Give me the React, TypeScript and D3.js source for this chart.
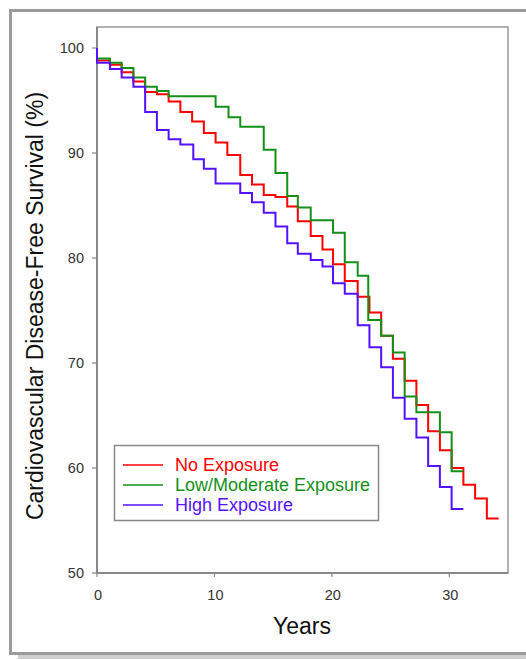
import React from "react";
import * as d3 from "d3";

// Kaplan-Meier style step curves: [years, survival %]
const noExposure: [number, number][] = [
  [0, 100], [0, 98.8], [1.1, 98.4], [2.1, 97.7], [3.1, 96.8], [4.1, 95.8], [5.1, 95.6],
  [6.1, 94.9], [7.1, 93.9], [8.1, 93.0], [9.1, 91.9], [10.1, 91.0], [11.1, 89.8],
  [12.2, 87.9], [13.2, 87.0], [14.2, 86.0], [15.2, 85.8], [16.2, 84.9], [17.1, 83.5],
  [18.2, 82.1], [19.2, 80.8], [20.1, 79.4], [21.1, 77.8], [22.2, 76.3], [23.2, 74.8],
  [24.2, 72.6], [25.2, 70.4], [26.2, 68.3], [27.2, 66.0], [28.2, 63.5], [29.2, 61.7],
  [30.2, 60.0], [31.2, 58.4], [32.2, 57.1], [33.2, 55.2], [34.2, 55.2],
];

const lowModerate: [number, number][] = [
  [0, 100], [0, 99.0], [1.1, 98.6], [2.1, 98.1], [3.1, 97.2], [4.1, 96.3], [5.1, 95.9],
  [6.1, 95.4], [10.1, 94.4], [11.2, 93.4], [12.2, 92.5], [14.2, 90.3], [15.2, 88.1],
  [16.2, 85.9], [17.1, 84.8], [18.2, 83.6], [20.1, 82.4], [21.1, 79.6], [22.2, 78.3],
  [23.1, 74.1], [24.2, 72.6], [25.2, 71.0], [26.2, 66.8], [27.2, 65.3], [29.2, 63.4],
  [30.2, 59.7], [31.2, 59.7],
];

const highExposure: [number, number][] = [
  [0, 100], [0, 98.6], [1.1, 98.0], [2.1, 97.2], [3.1, 96.3], [4.1, 93.9], [5.1, 92.2],
  [6.1, 91.3], [7.1, 90.8], [8.2, 89.4], [9.1, 88.5], [10.1, 87.1], [12.2, 86.2],
  [13.2, 85.3], [14.2, 84.3], [15.2, 83.0], [16.2, 81.4], [17.1, 80.4], [18.2, 79.8],
  [19.2, 79.2], [20.1, 77.6], [21.1, 76.6], [22.2, 73.6], [23.2, 71.5], [24.2, 69.6],
  [25.2, 66.7], [26.2, 64.7], [27.2, 62.9], [28.2, 60.2], [29.2, 58.2], [30.2, 56.1],
  [31.2, 56.1],
];

const seriesNames = ["No Exposure", "Low/Moderate Exposure", "High Exposure"];
const seriesColors = ["#ff0000", "#14901a", "#5511ff"];
const xTicks = [0, 10, 20, 30];
const yTicks = [50, 60, 70, 80, 90, 100];

const W = 526;
const H = 660;
const font = "'Liberation Sans', Arial, sans-serif";

const App = () => {
  const x = d3.scaleLinear().domain([0, 35]).range([97, 508]);
  const y = d3.scaleLinear().domain([50, 102]).range([573, 27]);

  const line = d3
    .line<[number, number]>()
    .x(d => x(d[0]))
    .y(d => y(d[1]))
    .curve(d3.curveStepAfter);

  const allSeries = [noExposure, lowModerate, highExposure];

  return (
    <div style={{ position: "absolute", left: 0, top: 0 }}>
      <svg width={W} height={H} style={{ display: "block", background: "#fff" }}>
        {/* outer frame with shadow */}
        <rect x={18} y={655} width={520} height={4} fill="#cfcfcf" />
        <rect x={10.5} y={10.5} width={530} height={643} fill="none" stroke="#9b9b9b" strokeWidth={3} />

        {/* plot box */}
        <rect x={x(0)} y={y(102)} width={x(35) - x(0)} height={y(50) - y(102)}
          fill="none" stroke="#999" strokeWidth={1.5} />
        <line x1={x(0)} x2={x(0)} y1={y(102)} y2={y(50)} stroke="#888" strokeWidth={2} />
        <line x1={x(0)} x2={x(35)} y1={y(50)} y2={y(50)} stroke="#888" strokeWidth={2} />

        {yTicks.map(t => (
          <g key={t}>
            <line x1={x(0) - 5} x2={x(0)} y1={y(t)} y2={y(t)} stroke="#888" strokeWidth={1.2} />
            <text x={84} y={y(t)} dy="0.35em" textAnchor="end" fontFamily={font}
              fontSize={14.5} fill="#333">{t}</text>
          </g>
        ))}
        {xTicks.map(t => (
          <g key={t}>
            <line x1={x(t)} x2={x(t)} y1={y(50)} y2={y(50) + 4} stroke="#888" strokeWidth={1.2} />
            <text x={x(t) + 1} y={600} textAnchor="middle" fontFamily={font}
              fontSize={14.5} fill="#333">{t}</text>
          </g>
        ))}

        {allSeries.map((s, i) => (
          <path key={i} d={line(s) || ""} fill="none" stroke={seriesColors[i]}
            strokeWidth={2} />
        ))}

        {/* legend */}
        <rect x={114.5} y={445.5} width={264} height={75} fill="#fff" stroke="#888" strokeWidth={1.5} />
        {seriesNames.map((n, i) => (
          <g key={n}>
            <line x1={123} x2={163} y1={465 + i * 20} y2={465 + i * 20}
              stroke={seriesColors[i]} strokeWidth={1.5} />
            <text x={175} y={465 + i * 20} dy="0.36em" fontFamily={font} fontSize={18}
              fill={seriesColors[i]}>{n}</text>
          </g>
        ))}

        {/* axis titles */}
        <text x={302} y={634} textAnchor="middle" fontFamily={font} fontSize={23} fill="#111">
          Years
        </text>
        <text transform={`translate(43, 306) rotate(-90)`} textAnchor="middle"
          fontFamily={font} fontSize={23} fill="#111">
          Cardiovascular Disease-Free Survival (%)
        </text>
      </svg>
    </div>
  );
};

export default App;
